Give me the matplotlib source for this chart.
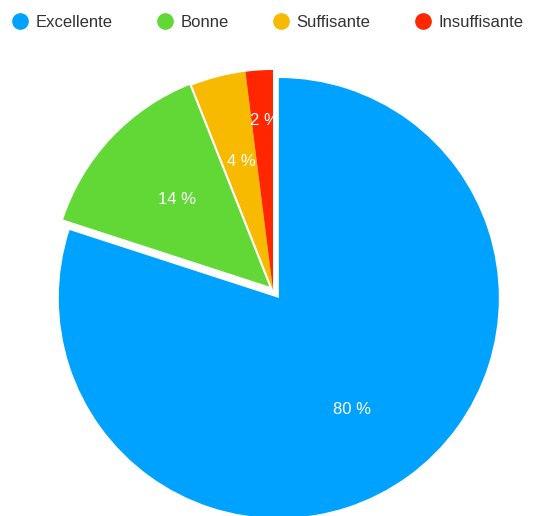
import matplotlib.pyplot as plt
from matplotlib.lines import Line2D

plt.rcParams["font.family"] = ["Liberation Sans", "DejaVu Sans"]

labels = ["Excellente", "Bonne", "Suffisante", "Insuffisante"]
values = [80, 14, 4, 2]
colors = ["#00A2FF", "#61D836", "#F8BA00", "#FF2600"]
explode = [0.045, 0.012, 0, 0]

fig = plt.figure(figsize=(5.35, 5.16), dpi=100)
ax = fig.add_axes([0, 0, 1, 1])

wedges, texts, autotexts = ax.pie(
    values,
    colors=colors,
    explode=explode,
    startangle=90,
    counterclock=False,
    radius=1,
    autopct=lambda p: f"{p:.0f} %",
    pctdistance=0.62,
    textprops={"color": "white", "fontsize": 12},
    wedgeprops={"linewidth": 0},
)
# thin white seam between green and orange
wedges[1].set_edgecolor("white")
wedges[1].set_linewidth(1.5)

# nudge labels like the original
autotexts[0].set_position((0.36, -0.545))
autotexts[1].set_position((-0.435, 0.41))
autotexts[2].set_position((-0.145, 0.585))
autotexts[3].set_position((-0.04, 0.77))

ax.set_xlim(-273 / 220, (535 - 273) / 220)
ax.set_ylim(-226 / 220, 290 / 220)
ax.set_aspect("auto")
ax.axis("off")

handles = [
    Line2D([], [], marker="o", linestyle="", markersize=11,
           markerfacecolor=c, markeredgecolor=c)
    for c in colors
]
fig.legend(
    handles, labels, loc="upper left", bbox_to_anchor=(-0.007, 1.0),
    ncol=4, frameon=False, fontsize=12, handletextpad=0.42,
    handlelength=1.05, columnspacing=2.6, labelcolor="#333333",
)

fig.savefig("out.png", dpi=100)
